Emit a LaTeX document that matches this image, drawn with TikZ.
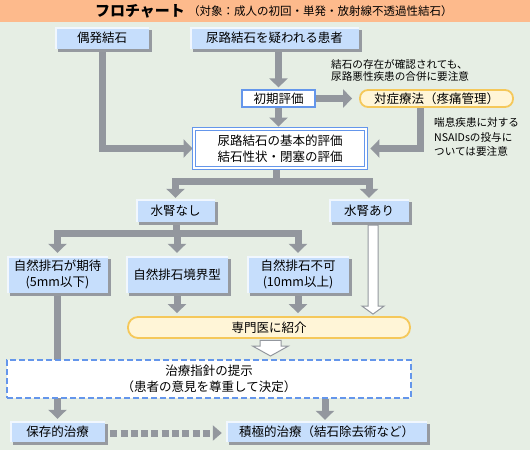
\documentclass[tikz,border=0pt]{standalone}
\usepackage{fontspec}
\setmainfont{Noto Sans CJK JP}
\usetikzlibrary{arrows.meta,shadows,calc}
\definecolor{bg}{HTML}{E6EEE4}
\definecolor{titlebar}{HTML}{FDBA8C}
\definecolor{bfill}{HTML}{C6DEFC}
\definecolor{bshadow}{HTML}{969AA0}
\definecolor{agray}{HTML}{93979E}
\definecolor{pfill}{HTML}{FFF5D7}
\definecolor{pline}{HTML}{F5C85A}
\definecolor{bline}{HTML}{6496EB}
\pgfdeclarelayer{background}
\pgfsetlayers{background,main}
\tikzset{
  boxtext/.style={font=\fontsize{12.5}{15.5}\selectfont, align=center, inner sep=0pt},
  bevel/.style={boxtext, fill=bfill,
    drop shadow={shadow xshift=3pt, shadow yshift=-3pt, fill=bshadow, opacity=1},
    path picture={\draw[bfill!25!white, line width=3pt]
      (path picture bounding box.south west) -- (path picture bounding box.north west)
      -- (path picture bounding box.north east);}},
  whitebox/.style={boxtext, fill=white, draw=bline, line width=1.2pt},
  dblbox/.style={boxtext, fill=white, draw=bline, line width=0.9pt, double=white, double distance=1.4pt},
  pill/.style={boxtext, fill=pfill, draw=pline, line width=1.8pt},
  dashbox/.style={boxtext, fill=white, draw=bline, line width=2pt, dash pattern=on 6pt off 3pt},
  note/.style={inner sep=0pt, align=left},
  gline/.style={draw=agray, line width=7pt},
  garrow/.style={gline, -{Triangle[width=18pt,length=9pt]}},
  dotarrow/.style={draw=agray, line width=7pt, dash pattern=on 7pt off 3.3pt,
    -{Triangle[width=15pt,length=9pt]}},
  hollow/.style={fill=white, draw=agray, line width=1pt, line join=miter},
}
\begin{document}
\begin{tikzpicture}[x=1pt,y=-1pt]
\useasboundingbox (0,0) rectangle (530,450);

% nodes
\node[bevel, minimum width=94pt, minimum height=22pt] (gu) at (102,38) {偶発結石};
\node[bevel, minimum width=169pt, minimum height=22pt] (sus) at (274.5,38) {尿路結石を疑われる患者};
\node[whitebox, minimum width=73pt, minimum height=17pt] (init) at (278.5,98.5) {初期評価};
\node[pill, rounded corners=8pt, minimum width=153pt, minimum height=17pt] (taisho) at (436.5,98.5) {対症療法（疼痛管理）};
\node[dblbox, minimum width=172pt, minimum height=39pt] (basic) at (280,148.5) {尿路結石の基本的評価\\結石性状・閉塞の評価};
\node[bevel, minimum width=79pt, minimum height=23pt] (suinashi) at (175.5,210.5) {水腎なし};
\node[bevel, minimum width=80pt, minimum height=23pt] (suiari) at (369,210.5) {水腎あり};
\node[bevel, minimum width=101pt, minimum height=37pt] (k1) at (57.5,274.5) {自然排石が期待\\(5mm以下)};
\node[bevel, minimum width=102pt, minimum height=37pt] (k2) at (177,274.5) {自然排石境界型};
\node[bevel, minimum width=102pt, minimum height=37pt] (k3) at (298,274.5) {自然排石不可\\(10mm以上)};
\node[pill, rounded corners=10pt, minimum width=282pt, minimum height=21pt] (sen) at (269,327.5) {専門医に紹介};
\node[dashbox, minimum width=404pt, minimum height=38pt] (shishin) at (209,379) {治療指針の提示\\（患者の意見を尊重して決定）};
\node[bevel, minimum width=95pt, minimum height=21pt] (hozon) at (57.5,431.5) {保存的治療};
\node[bevel, minimum width=201pt, minimum height=21pt] (sekkyoku) at (326.5,431.5) {積極的治療（結石除去術など）};

\node[note, anchor=west, font=\fontsize{10.6}{12.5}\selectfont] (n1) at (331,70.5) {結石の存在が確認されても、\\尿路悪性疾患の合併に要注意};
\node[note, anchor=west, font=\fontsize{10.6}{14.5}\selectfont] (n2) at (434,137) {喘息疾患に対する\\NSAIDsの投与に\\ついては要注意};

\node[inner sep=0pt, font=\bfseries\fontsize{15}{15}\selectfont] (title) at (140,11) {フロチャート};
\node[inner sep=0pt, font=\fontsize{11.5}{12}\selectfont, anchor=west] (sub) at (188,11.5) {（対象：成人の初回・単発・放射線不透過性結石）};

\coordinate (j1) at (276,181);
\coordinate (j2) at (176,233);

\begin{pgfonlayer}{background}
\fill[bg] (0,0) rectangle (530,450);
\fill[titlebar] (0,0) rectangle (530,22);
\draw[garrow, shorten >=1pt] (gu.south) |- (basic.west);
\draw[garrow, shorten >=2pt] (init.north |- sus.south) -- (init.north);
\draw[garrow, shorten >=7pt] (init.east) -- (taisho.west);
\draw[garrow, shorten >=2pt] (init.south) -- (init.south |- basic.north);
\draw[garrow, shorten >=4pt] ([xshift=-16.5pt]taisho.south) |- (basic.east);
\draw[gline] (basic.south -| j1) -- (j1);
\draw[garrow, shorten >=1pt] (j1) -| (suinashi.north);
\draw[garrow, shorten >=1pt] (j1) -| (suiari.north);
\draw[gline] (suinashi.south -| j2) -- (j2);
\draw[garrow, shorten >=3pt] (j2) -| (k1.north);
\draw[garrow, shorten >=3pt] (j2) -| (k2.north);
\draw[garrow, shorten >=3pt] (j2) -| (k3.north);
\draw[garrow, shorten >=3pt] (k2.south) -- (k2.south |- sen.north);
\draw[garrow, shorten >=3pt] (k3.south) -- (k3.south |- sen.north);
\draw[garrow, shorten >=2pt] (k1.south) -- (k1.south |- hozon.north);
\draw[garrow, shorten >=1pt] ([xshift=-1.5pt]sekkyoku.north |- shishin.south) -- ([xshift=-1.5pt]sekkyoku.north);
\draw[dotarrow, shorten <=5pt, shorten >=4pt] ([yshift=-1.5pt]hozon.east) -- ([yshift=-1.5pt]sekkyoku.west);
\end{pgfonlayer}

% hollow arrows
\coordinate (ha1) at ($(suiari.south)+(4,3)$);
\coordinate (ha2) at ($(sen.north -| ha1)+(0,-2)$);
\draw[hollow] ($(ha1)+(-5,0)$) -- ($(ha2)+(-5,-8)$) -- ($(ha2)+(-11,-8)$) -- (ha2)
  -- ($(ha2)+(11,-8)$) -- ($(ha2)+(5,-8)$) -- ($(ha1)+(5,0)$) -- cycle;
\coordinate (hb1) at ($(sen.south)+(1.5,1.5)$);
\coordinate (hb2) at ($(shishin.north -| hb1)+(0,-3)$);
\draw[hollow] ($(hb1)+(-10.5,0)$) -- ($(hb2)+(-10.5,-10)$) -- ($(hb2)+(-18,-10)$) -- (hb2)
  -- ($(hb2)+(18,-10)$) -- ($(hb2)+(10.5,-10)$) -- ($(hb1)+(10.5,0)$) -- cycle;
\end{tikzpicture}
\end{document}
